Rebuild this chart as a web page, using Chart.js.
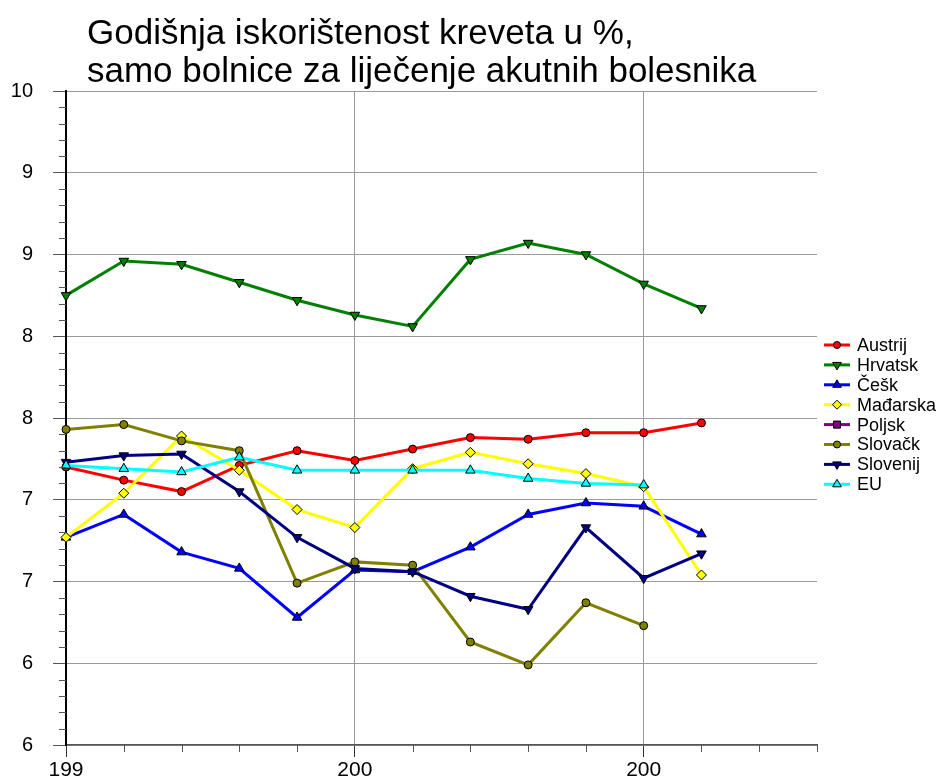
<!DOCTYPE html>
<html>
<head>
<meta charset="utf-8">
<script src="https://cdn.jsdelivr.net/npm/chart.js@4.4.1/dist/chart.umd.min.js"></script>
<style>
  html, body { margin: 0; padding: 0; background: #fff; }
  #wrap { width: 939px; height: 778px; position: relative; }
</style>
</head>
<body>
<div id="wrap"><canvas id="chart"></canvas></div>
<script>
// kategorije (godine) i oznake na osima
const years = ['1995', '1996', '1997', '1998', '1999', '2000', '2001', '2002', '2003', '2004', '2005', '2006', '2007', '2008'];
const xTickLabels = ['199', '', '', '', '', '200', '', '', '', '', '200', '', '', ''];
const yTicks = [60, 65, 70, 75, 80, 85, 90, 95, 100];
const yTickLabels = ['6', '6', '7', '7', '8', '8', '9', '9', '10'];

const titleLines = ['Godišnja iskorištenost kreveta u %,', 'samo bolnice za liječenje akutnih bolesnika'];

// vrijednosti po zemljama
const austrija = [77.0, 76.2, 75.5, 77.1, 78.0, 77.4, 78.1, 78.8, 78.7, 79.1, 79.1, 79.7];
const hrvatska = [87.5, 89.6, 89.4, 88.3, 87.2, 86.3, 85.6, 89.7, 90.7, 90.0, 88.2, 86.7];
const ceska = [72.7, 74.1, 71.8, 70.8, 67.8, 70.7, 70.6, 72.1, 74.1, 74.8, 74.6, 72.9];
const madarska = [72.7, 75.4, 78.9, 76.8, 74.4, 73.3, 76.9, 77.9, 77.2, 76.6, 75.8, 70.4];
const poljska = [null, null, null, null, null, null, null, null, null, null, null, null];
const slovacka = [79.3, 79.6, 78.6, 78.0, 69.9, 71.2, 71.0, 66.3, 64.9, 68.7, 67.3, null];
const slovenija = [77.3, 77.7, 77.8, 75.5, 72.7, 70.8, 70.6, 69.1, 68.3, 73.3, 70.2, 71.7];
const eu = [77.1, 76.9, 76.7, 77.6, 76.8, 76.8, 76.8, 76.8, 76.3, 76.0, 75.9, null];

const FONT = '"Liberation Sans", Arial, sans-serif';

function series(label, data, color, pointStyle, rotation, radius, i) {
    return {
        label,
        data,
        borderColor: color,
        backgroundColor: color,
        pointBackgroundColor: color,
        pointBorderColor: '#000',
        pointBorderWidth: 1,
        pointStyle,
        pointRotation: rotation,
        pointRadius: radius,
        borderWidth: 3,
        tension: 0,
        fill: false,
        order: 10 - i   // kasnije serije iznad
    };
}

const datasets = [
    series('Austrij', austrija, '#ff0000', 'circle', 0, 4, 0),
    series('Hrvatsk', hrvatska, '#008000', 'triangle', 180, 5.5, 1),
    series('Češk', ceska, '#0000ff', 'triangle', 0, 5.5, 2),
    series('Mađarska', madarska, '#ffff00', 'rectRot', 0, 5, 3),
    series('Poljsk', poljska, '#800080', 'rect', 0, 5.5, 4),
    series('Slovačk', slovacka, '#808000', 'circle', 0, 4, 5),
    series('Slovenij', slovenija, '#000080', 'triangle', 180, 5.5, 6),
    series('EU', eu, '#00ffff', 'triangle', 0, 5.5, 7)
];

// naslov u dva reda
const titlePlugin = {
    id: 'titlePlugin',
    afterDraw(chart) {
        const ctx = chart.ctx;
        ctx.save();
        ctx.fillStyle = '#000';
        ctx.font = '35px ' + FONT;
        ctx.textBaseline = 'alphabetic';
        ctx.textAlign = 'left';
        ctx.fillText(titleLines[0], chart.chartArea.left + 21, 44);
        ctx.fillText(titleLines[1], chart.chartArea.left + 21, 82);
        ctx.restore();
    }
};

// sitne crtice na osima
const minorTicks = {
    id: 'minorTicks',
    afterDraw(chart) {
        const {ctx, chartArea, scales: {x, y}} = chart;
        ctx.save();
        ctx.strokeStyle = '#555';
        ctx.lineWidth = 1;
        ctx.beginPath();
        for (let v = y.min + 1; v < y.max; v++) {
            if (v % 5 === 0) continue;
            const py = Math.round(y.getPixelForValue(v)) + 0.5;
            ctx.moveTo(chartArea.left - 7, py);
            ctx.lineTo(chartArea.left, py);
        }
        for (let i = 1; i < years.length; i++) {
            if (i % 5 === 0) continue;
            const px = Math.round(x.getPixelForValue(i)) + 0.5;
            ctx.moveTo(px, chartArea.bottom);
            ctx.lineTo(px, chartArea.bottom + 7);
        }
        ctx.stroke();
        ctx.restore();
    }
};

// legenda desno: crta + oznaka + tekst
const sideLegend = {
    id: 'sideLegend',
    afterDraw(chart) {
        const ctx = chart.ctx;
        const x0 = chart.chartArea.right + 7;
        ctx.save();
        chart.data.datasets.forEach((ds, i) => {
            const cy = 345 + i * 19.9;
            ctx.strokeStyle = ds.borderColor;
            ctx.lineWidth = 3;
            ctx.beginPath();
            ctx.moveTo(x0, cy);
            ctx.lineTo(x0 + 26, cy);
            ctx.stroke();
            ctx.fillStyle = ds.pointBackgroundColor;
            ctx.strokeStyle = '#000';
            ctx.lineWidth = 1;
            Chart.helpers.drawPoint(ctx, {
                pointStyle: ds.pointStyle,
                rotation: ds.pointRotation,
                radius: ds.pointRadius - 0.5,
                borderWidth: 1
            }, x0 + 13, cy);
            ctx.fillStyle = '#000';
            ctx.font = '18px ' + FONT;
            ctx.textBaseline = 'middle';
            ctx.fillText(ds.label, x0 + 33, cy + 1);
        });
        ctx.restore();
    }
};

const ctx = document.getElementById('chart');

new Chart(ctx, {
    type: 'line',
    data: {
        labels: years,
        datasets
    },
    options: {
        responsive: true,
        maintainAspectRatio: false,
        animation: false,
        layout: { padding: { top: 91, right: 122, left: 0, bottom: 0 } },
        plugins: {
            legend: { display: false },
            title: { display: false },
            tooltip: { enabled: false }
        },
        scales: {
            x: {
                type: 'category',
                offset: false,
                grid: {
                    offset: false,
                    color: c => (c.index % 5 === 0 ? '#9a9a9a' : 'rgba(0,0,0,0)'),
                    tickColor: c => (c.index % 5 === 0 ? '#333' : 'rgba(0,0,0,0)'),
                    tickLength: 12,
                    lineWidth: 1
                },
                border: { color: '#555', width: 1.5 },
                ticks: {
                    autoSkip: false,
                    maxRotation: 0,
                    padding: 1,
                    color: '#000',
                    font: { size: 21, family: FONT },
                    callback: (v, i) => xTickLabels[i]
                },
                afterFit: s => { s.height = 33; }
            },
            y: {
                min: 60,
                max: 100,
                grid: {
                    color: '#9a9a9a',
                    tickColor: '#555',
                    tickLength: 13,
                    lineWidth: 1
                },
                border: { color: '#000', width: 2 },
                ticks: {
                    stepSize: 5,
                    padding: 20,
                    color: '#000',
                    font: { size: 20, family: FONT },
                    callback: v => yTickLabels[yTicks.indexOf(v)]
                },
                afterFit: s => { s.width = 66; }
            }
        }
    },
    plugins: [titlePlugin, minorTicks, sideLegend]
});
</script>
</body>
</html>
